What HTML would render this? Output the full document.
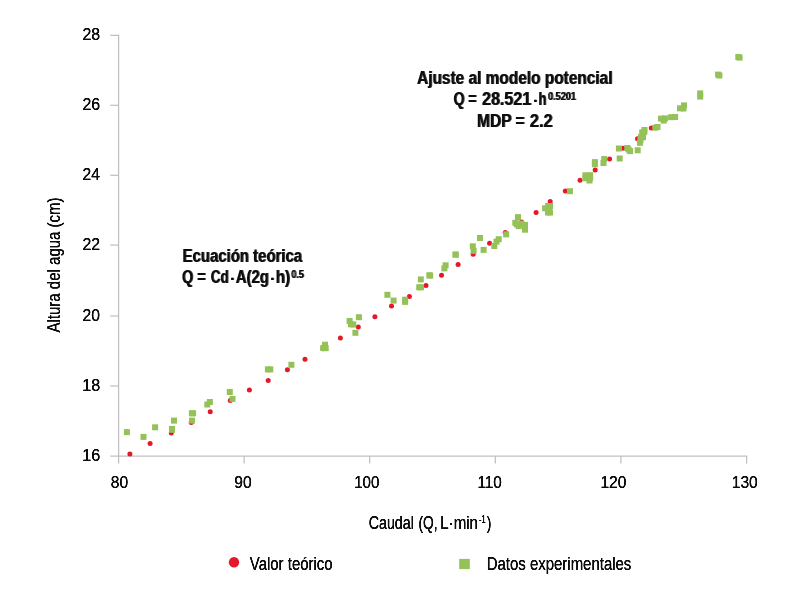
<!DOCTYPE html>
<html lang="es"><head><meta charset="utf-8"><title>Caudal</title>
<style>
html,body{margin:0;padding:0;background:#fff;}
svg{display:block}
text{font-family:"Liberation Sans",sans-serif;fill:#0d0d0d}
.b{font-weight:bold}
</style></head><body>
<svg width="795" height="603" viewBox="0 0 795 603">
<rect width="795" height="603" fill="#fff"/>
<defs>
<filter id="fb" x="-2%" y="-5%" width="104%" height="110%"><feOffset in="SourceGraphic" dx="1" dy="0"/><feComponentTransfer result="a"><feFuncA type="linear" slope="0.8"/></feComponentTransfer><feMerge><feMergeNode in="a"/><feMergeNode in="SourceGraphic"/></feMerge></filter>
<filter id="fr" x="-2%" y="-5%" width="104%" height="110%"><feGaussianBlur stdDeviation="0.35 0"/><feComponentTransfer><feFuncA type="linear" slope="1.7" intercept="0"/></feComponentTransfer></filter>
<filter id="fv" x="-20%" y="-5%" width="140%" height="110%"><feGaussianBlur stdDeviation="0 0.35"/><feComponentTransfer><feFuncA type="linear" slope="1.7" intercept="0"/></feComponentTransfer></filter>
</defs>
<g stroke="#c0c0c0" stroke-width="1.25" fill="none"><path d="M118.6 34.77V463.5"/><path d="M110.2 456H747.23"/><path d="M110.2 35.4H118.6"/><path d="M110.2 105.3H118.6"/><path d="M110.2 175.3H118.6"/><path d="M110.2 245.1H118.6"/><path d="M110.2 316.0H118.6"/><path d="M110.2 386.0H118.6"/><path d="M244.1 456V463.5"/><path d="M369.7 456V463.5"/><path d="M495.3 456V463.5"/><path d="M620.9 456V463.5"/><path d="M746.6 456V463.5"/></g>
<g filter="url(#fr)">
<text x="82.45" y="40.3" font-size="17.2" textLength="17.69" lengthAdjust="spacingAndGlyphs">28</text>
<text x="82.45" y="110.2" font-size="17.2" textLength="17.69" lengthAdjust="spacingAndGlyphs">26</text>
<text x="82.47" y="180.3" font-size="17.2" textLength="17.42" lengthAdjust="spacingAndGlyphs">24</text>
<text x="82.45" y="250.1" font-size="17.2" textLength="17.69" lengthAdjust="spacingAndGlyphs">22</text>
<text x="82.47" y="320.8" font-size="17.2" textLength="17.42" lengthAdjust="spacingAndGlyphs">20</text>
<text x="82.19" y="390.8" font-size="17.2" textLength="17.96" lengthAdjust="spacingAndGlyphs">18</text>
<text x="82.19" y="460.6" font-size="17.2" textLength="17.96" lengthAdjust="spacingAndGlyphs">16</text>
<text x="110.81" y="487.9" font-size="17.2" textLength="17.27" lengthAdjust="spacingAndGlyphs">80</text>
<text x="234.37" y="487.9" font-size="17.2" textLength="17.42" lengthAdjust="spacingAndGlyphs">90</text>
<text x="354.16" y="487.9" font-size="17.2" textLength="25.22" lengthAdjust="spacingAndGlyphs">100</text>
<text x="477.44" y="487.9" font-size="17.2" textLength="24.44" lengthAdjust="spacingAndGlyphs">110</text>
<text x="600.43" y="487.9" font-size="17.2" textLength="25.96" lengthAdjust="spacingAndGlyphs">120</text>
<text x="731.72" y="487.9" font-size="17.2" textLength="26.07" lengthAdjust="spacingAndGlyphs">130</text>
</g>
<g fill="#e5172b"><circle cx="129.9" cy="454.0" r="2.5"/><circle cx="150.1" cy="443.4" r="2.5"/><circle cx="171.3" cy="433.0" r="2.5"/><circle cx="191.2" cy="422.4" r="2.5"/><circle cx="210.2" cy="411.7" r="2.5"/><circle cx="230.3" cy="400.6" r="2.5"/><circle cx="249.4" cy="390.0" r="2.5"/><circle cx="268.2" cy="380.6" r="2.5"/><circle cx="287.4" cy="369.8" r="2.5"/><circle cx="305.0" cy="359.2" r="2.5"/><circle cx="323.0" cy="348.7" r="2.5"/><circle cx="340.4" cy="337.9" r="2.5"/><circle cx="358.3" cy="327.0" r="2.5"/><circle cx="374.9" cy="316.7" r="2.5"/><circle cx="391.5" cy="305.9" r="2.5"/><circle cx="409.4" cy="296.4" r="2.5"/><circle cx="426.0" cy="285.6" r="2.5"/><circle cx="441.5" cy="275.2" r="2.5"/><circle cx="458.1" cy="264.6" r="2.5"/><circle cx="473.2" cy="254.3" r="2.5"/><circle cx="489.6" cy="243.2" r="2.5"/><circle cx="505.2" cy="232.5" r="2.5"/><circle cx="521.5" cy="222.1" r="2.5"/><circle cx="536.1" cy="212.5" r="2.5"/><circle cx="550.2" cy="201.4" r="2.5"/><circle cx="565.3" cy="191.1" r="2.5"/><circle cx="580.0" cy="180.2" r="2.5"/><circle cx="595.2" cy="170.0" r="2.5"/><circle cx="609.6" cy="159.1" r="2.5"/><circle cx="622.9" cy="148.2" r="2.5"/><circle cx="637.5" cy="138.7" r="2.5"/><circle cx="651.3" cy="128.1" r="2.5"/></g>
<g fill="#94c259"><rect x="123.9" y="429.1" width="6" height="6"/><rect x="140.5" y="433.9" width="6" height="6"/><rect x="152.1" y="424.3" width="6" height="6"/><rect x="169.0" y="425.9" width="6" height="6"/><rect x="169.0" y="426.8" width="6" height="6"/><rect x="171.0" y="417.6" width="6" height="6"/><rect x="189.0" y="417.6" width="6" height="6"/><rect x="188.9" y="410.3" width="6" height="6"/><rect x="190.1" y="410.3" width="6" height="6"/><rect x="204.3" y="401.5" width="6" height="6"/><rect x="206.9" y="399.0" width="6" height="6"/><rect x="226.8" y="389.0" width="6" height="6"/><rect x="229.5" y="395.9" width="6" height="6"/><rect x="264.9" y="366.4" width="6" height="6"/><rect x="267.3" y="366.4" width="6" height="6"/><rect x="288.4" y="361.8" width="6" height="6"/><rect x="322.0" y="341.7" width="6" height="6"/><rect x="320.2" y="345.0" width="6" height="6"/><rect x="322.7" y="345.2" width="6" height="6"/><rect x="346.6" y="318.0" width="6" height="6"/><rect x="348.0" y="321.3" width="6" height="6"/><rect x="350.3" y="321.5" width="6" height="6"/><rect x="355.9" y="314.2" width="6" height="6"/><rect x="352.4" y="329.8" width="6" height="6"/><rect x="384.4" y="291.8" width="6" height="6"/><rect x="390.6" y="297.6" width="6" height="6"/><rect x="402.1" y="296.7" width="6" height="6"/><rect x="402.1" y="298.9" width="6" height="6"/><rect x="416.2" y="284.3" width="6" height="6"/><rect x="418.0" y="284.3" width="6" height="6"/><rect x="417.8" y="276.4" width="6" height="6"/><rect x="426.3" y="272.3" width="6" height="6"/><rect x="427.2" y="272.6" width="6" height="6"/><rect x="442.6" y="262.3" width="6" height="6"/><rect x="441.4" y="265.4" width="6" height="6"/><rect x="452.4" y="251.6" width="6" height="6"/><rect x="452.8" y="251.6" width="6" height="6"/><rect x="469.8" y="243.3" width="6" height="6"/><rect x="470.6" y="247.8" width="6" height="6"/><rect x="477.0" y="235.0" width="6" height="6"/><rect x="480.6" y="246.9" width="6" height="6"/><rect x="491.3" y="243.0" width="6" height="6"/><rect x="493.5" y="238.7" width="6" height="6"/><rect x="495.7" y="236.2" width="6" height="6"/><rect x="503.2" y="231.4" width="6" height="6"/><rect x="515.0" y="214.1" width="6" height="6"/><rect x="512.3" y="219.8" width="6" height="6"/><rect x="515.8" y="223.1" width="6" height="6"/><rect x="514.0" y="221.5" width="6" height="6"/><rect x="518.4" y="220.6" width="6" height="6"/><rect x="522.0" y="221.9" width="6" height="6"/><rect x="522.0" y="226.7" width="6" height="6"/><rect x="542.1" y="205.3" width="6" height="6"/><rect x="545.2" y="203.0" width="6" height="6"/><rect x="547.1" y="203.0" width="6" height="6"/><rect x="545.0" y="209.5" width="6" height="6"/><rect x="547.0" y="209.5" width="6" height="6"/><rect x="546.0" y="206.5" width="6" height="6"/><rect x="567.0" y="188.2" width="6" height="6"/><rect x="582.4" y="172.3" width="6" height="6"/><rect x="587.1" y="172.2" width="6" height="6"/><rect x="586.5" y="177.5" width="6" height="6"/><rect x="584.5" y="175.0" width="6" height="6"/><rect x="582.4" y="175.3" width="6" height="6"/><rect x="587.1" y="175.0" width="6" height="6"/><rect x="735.3" y="54.0" width="6" height="6"/><rect x="736.6" y="54.6" width="6" height="6"/><rect x="715.1" y="71.6" width="6" height="6"/><rect x="716.4" y="72.5" width="6" height="6"/><rect x="697.2" y="90.4" width="6" height="6"/><rect x="697.2" y="93.6" width="6" height="6"/><rect x="681.0" y="102.4" width="6" height="6"/><rect x="677.0" y="105.3" width="6" height="6"/><rect x="680.5" y="105.5" width="6" height="6"/><rect x="658.0" y="115.6" width="6" height="6"/><rect x="662.0" y="115.4" width="6" height="6"/><rect x="660.7" y="117.6" width="6" height="6"/><rect x="668.1" y="114.2" width="6" height="6"/><rect x="672.1" y="114.0" width="6" height="6"/><rect x="652.3" y="124.7" width="6" height="6"/><rect x="654.5" y="124.0" width="6" height="6"/><rect x="641.5" y="127.0" width="6" height="6"/><rect x="641.2" y="129.0" width="6" height="6"/><rect x="639.2" y="129.5" width="6" height="6"/><rect x="638.1" y="134.0" width="6" height="6"/><rect x="640.0" y="134.3" width="6" height="6"/><rect x="637.0" y="139.8" width="6" height="6"/><rect x="637.5" y="137.0" width="6" height="6"/><rect x="615.9" y="145.5" width="6" height="6"/><rect x="624.3" y="145.0" width="6" height="6"/><rect x="627.1" y="148.1" width="6" height="6"/><rect x="625.5" y="146.5" width="6" height="6"/><rect x="634.7" y="147.3" width="6" height="6"/><rect x="616.7" y="155.5" width="6" height="6"/><rect x="601.2" y="156.0" width="6" height="6"/><rect x="600.5" y="160.0" width="6" height="6"/><rect x="591.9" y="159.1" width="6" height="6"/><rect x="591.9" y="161.3" width="6" height="6"/></g>
<g filter="url(#fb)">
<text x="416.76" y="83.9" font-size="19.2" class="b" textLength="195.45" lengthAdjust="spacingAndGlyphs">Ajuste al modelo potencial</text>
<text x="453.16" y="105.2" font-size="19.2" class="b" textLength="23.17" lengthAdjust="spacingAndGlyphs">Q =</text>
<text x="481.70" y="105.2" font-size="19.2" class="b" textLength="49.31" lengthAdjust="spacingAndGlyphs">28.521</text>
<text x="532.99" y="106.44" font-size="15" class="b">·</text>
<text x="538.30" y="105.2" font-size="19.2" class="b" textLength="7.82" lengthAdjust="spacingAndGlyphs">h</text>
<text x="547.71" y="100.0" font-size="10.8" class="b" textLength="28.01" lengthAdjust="spacingAndGlyphs">0.5201</text>
<text x="476.84" y="127.1" font-size="19.2" class="b" textLength="47.43" lengthAdjust="spacingAndGlyphs">MDP =</text>
<text x="529.59" y="127.1" font-size="19.2" class="b" textLength="22.82" lengthAdjust="spacingAndGlyphs">2.2</text>
<text x="182.37" y="261.8" font-size="19.2" class="b" textLength="119.44" lengthAdjust="spacingAndGlyphs">Ecuación teórica</text>
<text x="181.75" y="282.9" font-size="19.2" class="b" textLength="23.58" lengthAdjust="spacingAndGlyphs">Q =</text>
<text x="210.58" y="282.9" font-size="19.2" class="b" textLength="17.77" lengthAdjust="spacingAndGlyphs">Cd</text>
<text x="229.89" y="283.54" font-size="15" class="b">·</text>
<text x="235.57" y="282.9" font-size="19.2" class="b" textLength="32.98" lengthAdjust="spacingAndGlyphs">A(2g</text>
<text x="269.99" y="283.54" font-size="15" class="b">·</text>
<text x="275.45" y="282.9" font-size="19.2" class="b" textLength="14.41" lengthAdjust="spacingAndGlyphs">h)</text>
<text x="291.01" y="277.9" font-size="10.8" class="b" textLength="12.71" lengthAdjust="spacingAndGlyphs">0.5</text>
</g>
<g filter="url(#fr)">
<text x="368.63" y="528.6" font-size="17.8" textLength="45.31" lengthAdjust="spacingAndGlyphs">Caudal</text>
<text x="418.45" y="528.6" font-size="17.8" textLength="19.18" lengthAdjust="spacingAndGlyphs">(Q,</text>
<text x="440.22" y="528.6" font-size="17.8" textLength="37.73" lengthAdjust="spacingAndGlyphs">L·min</text>
<text x="479.06" y="522.6" font-size="10" textLength="6.74" lengthAdjust="spacingAndGlyphs">-1</text>
<text x="486.80" y="528.6" font-size="17.8" textLength="4.62" lengthAdjust="spacingAndGlyphs">)</text>
</g>
<g filter="url(#fv)">
<text transform="translate(59.9 332.5) rotate(-90)" font-size="17.8" textLength="135.08" lengthAdjust="spacingAndGlyphs">Altura del agua (cm)</text>
</g>
<circle cx="234.0" cy="562.2" r="5.2" fill="#e5172b"/>
<rect x="459.2" y="558.9" width="10.6" height="10.2" fill="#94c259"/>
<g filter="url(#fr)">
<text x="249.80" y="569.8" font-size="17.8" textLength="82.81" lengthAdjust="spacingAndGlyphs">Valor teórico</text>
<text x="486.63" y="569.7" font-size="17.8" textLength="144.74" lengthAdjust="spacingAndGlyphs">Datos experimentales</text>
</g>
</svg>
</body></html>
